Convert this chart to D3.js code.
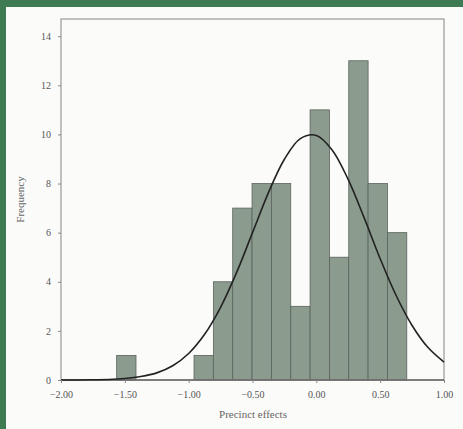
<!DOCTYPE html>
<html>
<head>
<meta charset="utf-8">
<style>
    body { margin: 0; background: #fff; }
    svg { display: block; }
    .axis text { font-family: 'Liberation Serif', 'DejaVu Serif', serif; font-size: 10px; fill: #555; }
    .axis line { stroke: #888; }
    .axis .domain { display: none; }
    .axis-label { font-family: 'Liberation Serif', 'DejaVu Serif', serif; font-size: 11px; fill: #666; }
</style>
</head>
<body>
<svg width="463" height="429"></svg>
<script src="https://d3js.org/d3.v7.min.js"></script>
<script>
    // histogram bins (left edge of each bin) and counts
    let binStart = -1.564
    let binWidth = 0.1515
    let counts = [1, 0, 0, 0, 1, 4, 7, 8, 8, 3, 11, 5, 13, 8, 6]

    // fitted normal curve
    let curveX = [-2.0, -1.875, -1.75, -1.625, -1.5, -1.375, -1.25, -1.125, -1.0, -0.875, -0.75, -0.625,
        -0.5, -0.375, -0.25, -0.125, 0, 0.125, 0.25, 0.375, 0.5, 0.625, 0.75, 0.875, 1.0]
    let curveY = [0.00, 0.00, 0.01, 0.02, 0.06, 0.14, 0.29, 0.58, 1.08, 1.86, 2.96, 4.37,
        6.00, 7.63, 8.99, 9.83, 9.96, 9.36, 8.16, 6.60, 4.94, 3.44, 2.22, 1.32, 0.73]

    let xTicks = [-2.0, -1.5, -1.0, -0.5, 0, 0.5, 1.0]
    let yTicks = [0, 2, 4, 6, 8, 10, 12, 14]

    let svg = d3.select("svg")

    // page background and green frame (top + left)
    svg.append("rect").attr("width", 463).attr("height", 429).attr("fill", "#fbfbfa")
    svg.append("rect").attr("width", 463).attr("height", 7).attr("fill", "#3f7b52")
    svg.append("rect").attr("width", 6).attr("height", 429).attr("fill", "#3f7b52")

    let margin = { top: 19, right: 19, bottom: 49, left: 61 }
    let width = 463, height = 429

    let x = d3.scaleLinear()
        .domain([-2, 1])
        .range([margin.left, width - margin.right])

    let y = d3.scaleLinear()
        .domain([0, 14.7])
        .range([height - margin.bottom, margin.top])

    let bins = counts.map((c, i) => ({ x0: binStart + i * binWidth, x1: binStart + (i + 1) * binWidth, n: c }))

    svg.append("g")
        .selectAll("rect")
        .data(bins.filter(d => d.n > 0))
        .join("rect")
        .attr("x", d => x(d.x0))
        .attr("width", d => x(d.x1) - x(d.x0))
        .attr("y", d => y(d.n))
        .attr("height", d => y(0) - y(d.n))
        .attr("fill", "#8b9b8e")
        .attr("stroke", "#5b625d")
        .attr("stroke-width", 0.8)

    // frame
    svg.append("rect")
        .attr("x", margin.left)
        .attr("y", margin.top)
        .attr("width", width - margin.right - margin.left)
        .attr("height", height - margin.bottom - margin.top)
        .attr("fill", "none")
        .attr("stroke", "#999")
        .attr("stroke-width", 1.2)

    // baseline
    svg.append("line")
        .attr("x1", margin.left).attr("x2", width - margin.right)
        .attr("y1", y(0)).attr("y2", y(0))
        .attr("stroke", "#666").attr("stroke-width", 1.5)

    let line = d3.line()
        .x((d, i) => x(curveX[i]))
        .y(d => y(d))
        .curve(d3.curveCatmullRom)

    svg.append("path")
        .datum(curveY)
        .attr("d", line)
        .attr("fill", "none")
        .attr("stroke", "#222")
        .attr("stroke-width", 1.6)

    let fmt = d => d3.format(".2f")(d).replace("-", "\u2212")

    svg.append("g")
        .attr("class", "x axis")
        .attr("transform", `translate(0,${y(0)})`)
        .call(d3.axisBottom(x).tickValues(xTicks).tickSize(3).tickPadding(8).tickFormat(fmt))

    svg.append("g")
        .attr("class", "y axis")
        .attr("transform", `translate(${margin.left},0)`)
        .call(d3.axisLeft(y).tickValues(yTicks).tickSize(3).tickPadding(7))

    svg.append("text")
        .attr("class", "axis-label")
        .attr("x", 253)
        .attr("y", 418)
        .attr("text-anchor", "middle")
        .text("Precinct effects")

    svg.append("text")
        .attr("class", "axis-label")
        .attr("transform", `translate(24,${(margin.top + height - margin.bottom) / 2}) rotate(-90)`)
        .attr("text-anchor", "middle")
        .text("Frequency")
</script>
</body>
</html>
